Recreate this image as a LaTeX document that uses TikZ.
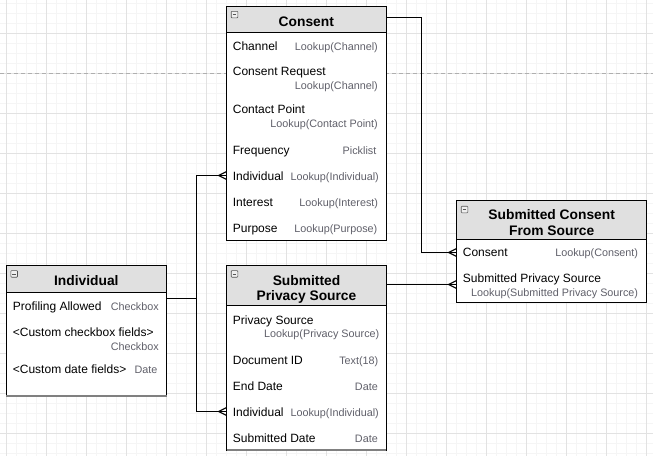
\documentclass[tikz,border=0pt]{standalone}
\usepackage{fontspec}
\setmainfont{Liberation Sans}
\usetikzlibrary{calc}

\definecolor{gridmajor}{RGB}{226,226,226}
\definecolor{gridminor}{RGB}{245,245,245}
\definecolor{pagebreak}{RGB}{175,175,175}
\definecolor{headfill}{RGB}{224,224,224}
\definecolor{typegray}{RGB}{96,96,106}
\definecolor{iconedge}{RGB}{85,85,85}
\definecolor{footgray}{RGB}{128,128,128}

\tikzset{
  tablebox/.style={draw=black, line width=1pt, fill=white, inner sep=0pt, outer sep=0pt, anchor=north west},
  headbox/.style={draw=black, line width=1pt, fill=headfill, inner sep=0pt, outer sep=0pt, anchor=north west},
  title/.style={font=\fontsize{13.8}{16}\selectfont\bfseries, inner sep=0pt, anchor=base},
  fieldname/.style={font=\fontsize{12}{14}\selectfont, inner sep=0pt, anchor=base west},
  fieldtype/.style={font=\fontsize{10.8}{13}\selectfont, text=typegray, inner sep=0pt, anchor=base east},
  conn/.style={draw=black, line width=1.1pt},
  collapser/.style={draw=iconedge, fill=headfill!50, rounded corners=0.8pt, minimum size=6.6pt,
    inner sep=0pt, line width=0.6pt,
    path picture={\draw[line width=0.8pt, iconedge]
      ($(path picture bounding box.west)+(1.5,0)$) -- ($(path picture bounding box.east)+(-1.5,0)$);}},
}

% many-end of a relationship, opening towards the table edge at #1
\newcommand\crowfoot[1]{%
  \draw[conn] ($(#1)+(-8,0)$) -- ($(#1)+(0,-4)$)
              ($(#1)+(-8,0)$) -- ($(#1)+(0,4)$);}

\begin{document}
\begin{tikzpicture}[x=1pt, y=-1pt]
\useasboundingbox (0,0) rectangle (653,456);
\fill[white] (0,0) rectangle (653,456);

% background grid
\begin{scope}
\clip (0,0) rectangle (653,456);
\foreach \i in {0,...,65} {
  \draw[gridminor, line width=0.6pt] ({6.7+10*\i},0) -- ({6.7+10*\i},456);}
\foreach \i in {0,...,46} {
  \draw[gridminor, line width=0.6pt] (0,{3.3+10*\i}) -- (653,{3.3+10*\i});}
\foreach \i in {0,...,16} {
  \draw[gridmajor, line width=0.8pt] ({6.7+40*\i},0) -- ({6.7+40*\i},456);}
\foreach \i in {0,...,12} {
  \draw[gridmajor, line width=0.8pt] (0,{-6.7+40*\i}) -- (653,{-6.7+40*\i});}
% page break
\draw[pagebreak, line width=0.8pt, dash pattern=on 4pt off 3pt] (0,73.3) -- (653,73.3);
\end{scope}

% ---------- Consent ----------
\node[tablebox, minimum width=159.3pt, minimum height=234pt] (consentBody) at (226.7,6) {};
\node[headbox, minimum width=159.3pt, minimum height=26.7pt] (consentHead) at (226.7,6) {};
\node[collapser] (consentIcon) at (234.5,14.6) {};
\node[title] (consentTitle) at (306.3,26) {Consent};
\node[fieldname] (cf1) at (232.7,50) {Channel};
\node[fieldtype] (ct1) at (378,50) {Lookup(Channel)};
\node[fieldname] (cf2) at (232.7,75.3) {Consent Request};
\node[fieldtype] (ct2) at (378,89.7) {Lookup(Channel)};
\node[fieldname] (cf3) at (232.7,113.3) {Contact Point};
\node[fieldtype] (ct3) at (378,127.5) {Lookup(Contact Point)};
\node[fieldname] (cf4) at (232.7,154.3) {Frequency};
\node[fieldtype] (ct4) at (376.5,154.3) {Picklist};
\node[fieldname] (cf5) at (232.7,180) {Individual};
\node[fieldtype] (ct5) at (379,180) {Lookup(Individual)};
\node[fieldname] (cf6) at (232.7,206) {Interest};
\node[fieldtype] (ct6) at (378.3,206) {Lookup(Interest)};
\node[fieldname] (cf7) at (232.7,232) {Purpose};
\node[fieldtype] (ct7) at (377.5,232) {Lookup(Purpose)};

% ---------- Individual ----------
\node[tablebox, minimum width=160.7pt, minimum height=130.7pt] (indivBody) at (6,265.3) {};
\node[headbox, minimum width=160.7pt, minimum height=27pt] (indivHead) at (6,265.3) {};
\draw[footgray, line width=1.8pt] (indivBody.south west) -- (indivBody.south east);
\node[collapser] (indivIcon) at (14.2,273.9) {};
\node[title] (indivTitle) at (86.3,285) {Individual};
\node[fieldname] (if1) at (12.7,310) {Profiling Allowed};
\node[fieldtype] (it1) at (159,310) {Checkbox};
\node[fieldname] (if2) at (12.7,336) {<Custom checkbox fields>};
\node[fieldtype] (it2) at (159,350) {Checkbox};
\node[fieldname] (if3) at (12.7,373.3) {<Custom date fields>};
\node[fieldtype] (it3) at (157.7,373.3) {Date};

% ---------- Submitted Privacy Source ----------
\node[tablebox, minimum width=159.3pt, minimum height=184.3pt] (spsBody) at (226.7,265.7) {};
\node[headbox, minimum width=159.3pt, minimum height=40pt] (spsHead) at (226.7,265.7) {};
\draw[footgray, line width=1.8pt] (spsBody.south west) -- (spsBody.south east);
\node[collapser] (spsIcon) at (234.5,273.9) {};
\node[title] (spsTitleA) at (306.5,285) {Submitted};
\node[title] (spsTitleB) at (306.5,300.3) {Privacy Source};
\node[fieldname] (sf1) at (232.7,324) {Privacy Source};
\node[fieldtype] (st1) at (379.5,337.7) {Lookup(Privacy Source)};
\node[fieldname] (sf2) at (232.7,364) {Document ID};
\node[fieldtype] (st2) at (378.5,364) {Text(18)};
\node[fieldname] (sf3) at (232.7,390) {End Date};
\node[fieldtype] (st3) at (378,390) {Date};
\node[fieldname] (sf4) at (232.7,416) {Individual};
\node[fieldtype] (st4) at (379,416) {Lookup(Individual)};
\node[fieldname] (sf5) at (232.7,442) {Submitted Date};
\node[fieldtype] (st5) at (378,442) {Date};

% ---------- Submitted Consent From Source ----------
\node[tablebox, minimum width=190pt, minimum height=102pt] (scfsBody) at (456.7,200.7) {};
\node[headbox, minimum width=190pt, minimum height=38.6pt] (scfsHead) at (456.7,200.7) {};
\node[collapser] (scfsIcon) at (464.5,209.5) {};
\node[title] (scfsTitleA) at (551.7,219) {Submitted Consent};
\node[title] (scfsTitleB) at (551.7,235) {From Source};
\node[fieldname] (xf1) at (462.7,256.7) {Consent};
\node[fieldtype] (xt1) at (638.3,256.7) {Lookup(Consent)};
\node[fieldname] (xf2) at (462.7,282.7) {Submitted Privacy Source};
\node[fieldtype] (xt2) at (638.3,296.7) {Lookup(Submitted Privacy Source)};

% ---------- relationship ports ----------
\coordinate (consentOut)     at (consentHead.east |- 0,17.5);
\coordinate (scfsConsentIn)  at (scfsBody.west |- 0,252.5);
\coordinate (indivOut)       at (indivHead.east |- 0,298.5);
\coordinate (consentIndivIn) at (consentBody.west |- 0,175.5);
\coordinate (spsIndivIn)     at (spsBody.west |- 0,411.5);
\coordinate (spsOut)         at (spsHead.east |- 0,284.5);
\coordinate (scfsSpsIn)      at (scfsBody.west |- 0,284.5);

% ---------- relationships ----------
\draw[conn] (consentOut) -- ++(35.5,0) |- (scfsConsentIn);
\crowfoot{scfsConsentIn}
\draw[conn] (spsOut) -- (scfsSpsIn);
\crowfoot{scfsSpsIn}
\draw[conn] (indivOut) -- ++(29.8,0) |- (consentIndivIn);
\crowfoot{consentIndivIn}
\draw[conn] (indivOut) -- ++(29.8,0) |- (spsIndivIn);
\crowfoot{spsIndivIn}
\end{tikzpicture}
\end{document}
